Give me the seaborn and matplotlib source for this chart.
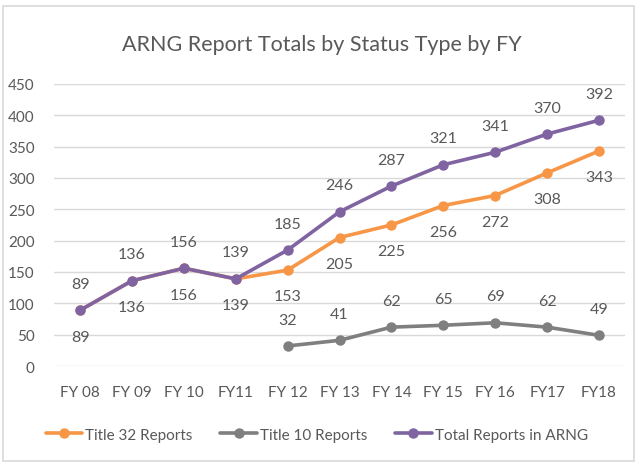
import matplotlib
matplotlib.use("Agg")
import matplotlib.pyplot as plt
import seaborn as sns
from matplotlib.patches import Rectangle

sns.set_theme(style="white")
plt.rcParams["font.family"] = ["Lato", "DejaVu Sans"]

TEXT = "#595959"
ORANGE = "#F79646"
GRAY = "#7F7F7F"
PURPLE = "#8064A2"

fy = ["FY 08", "FY 09", "FY 10", "FY11", "FY 12", "FY 13", "FY 14", "FY 15", "FY 16", "FY17", "FY18"]
title32 = [89, 136, 156, 139, 153, 205, 225, 256, 272, 308, 343]
title10 = [32, 41, 62, 65, 69, 62, 49]          # from FY 12 on
total = [89, 136, 156, 139, 185, 246, 287, 321, 341, 370, 392]

x_all = list(range(len(fy)))
x_t10 = x_all[len(fy) - len(title10):]

fig = plt.figure(figsize=(6.37, 4.64), dpi=100)
ax = fig.add_axes([0.085, 0.209, 0.896, 0.608])

line_kw = dict(marker="o", markersize=7.5, linewidth=2.6, markeredgewidth=0)
sns.lineplot(x=x_all, y=title32, color=ORANGE, label="Title 32 Reports", ax=ax, **line_kw)
sns.lineplot(x=x_t10, y=title10, color=GRAY, label="Title 10 Reports", ax=ax, **line_kw)
sns.lineplot(x=x_all, y=total, color=PURPLE, label="Total Reports in ARNG", ax=ax, **line_kw)

lab_kw = dict(textcoords="offset points", ha="center", va="center", fontsize=11.5, color=TEXT)
for i, v in zip(x_all, title32):
    ax.annotate(str(v), (i, v), xytext=(0, -19), **lab_kw)
for i, v in zip(x_t10, title10):
    ax.annotate(str(v), (i, v), xytext=(0, 19), **lab_kw)
for i, v in zip(x_all, total):
    ax.annotate(str(v), (i, v), xytext=(0, 19), **lab_kw)

ax.set_xlim(-0.5, len(fy) - 0.5)
ax.set_ylim(0, 450)
ax.set_yticks(range(0, 451, 50))
ax.set_xticks(x_all)
ax.set_xticklabels(fy)
ax.tick_params(axis="both", labelsize=11, colors=TEXT, length=0)
ax.tick_params(axis="x", pad=14)
ax.tick_params(axis="y", pad=14)
ax.yaxis.grid(True, color="#D9D9D9", linewidth=1)
ax.set_axisbelow(True)
for s in ax.spines.values():
    s.set_visible(False)
ax.set_xlabel("")
ax.set_ylabel("")

fig.text(0.505, 0.902, "ARNG Report Totals by Status Type by FY", ha="center", va="center",
         fontsize=15.5, color=TEXT)

ax.legend(loc="upper center", bbox_to_anchor=(0.46, -0.17), ncol=3, frameon=False,
          fontsize=11, labelcolor=TEXT, handlelength=2.4, handletextpad=0.2, columnspacing=1.8)

fig.patches.append(Rectangle((0.005, 0.004), 0.99, 0.98, transform=fig.transFigure,
                             fill=False, edgecolor="#D9D9D9", linewidth=1.2))

fig.savefig("out.png", dpi=100)
